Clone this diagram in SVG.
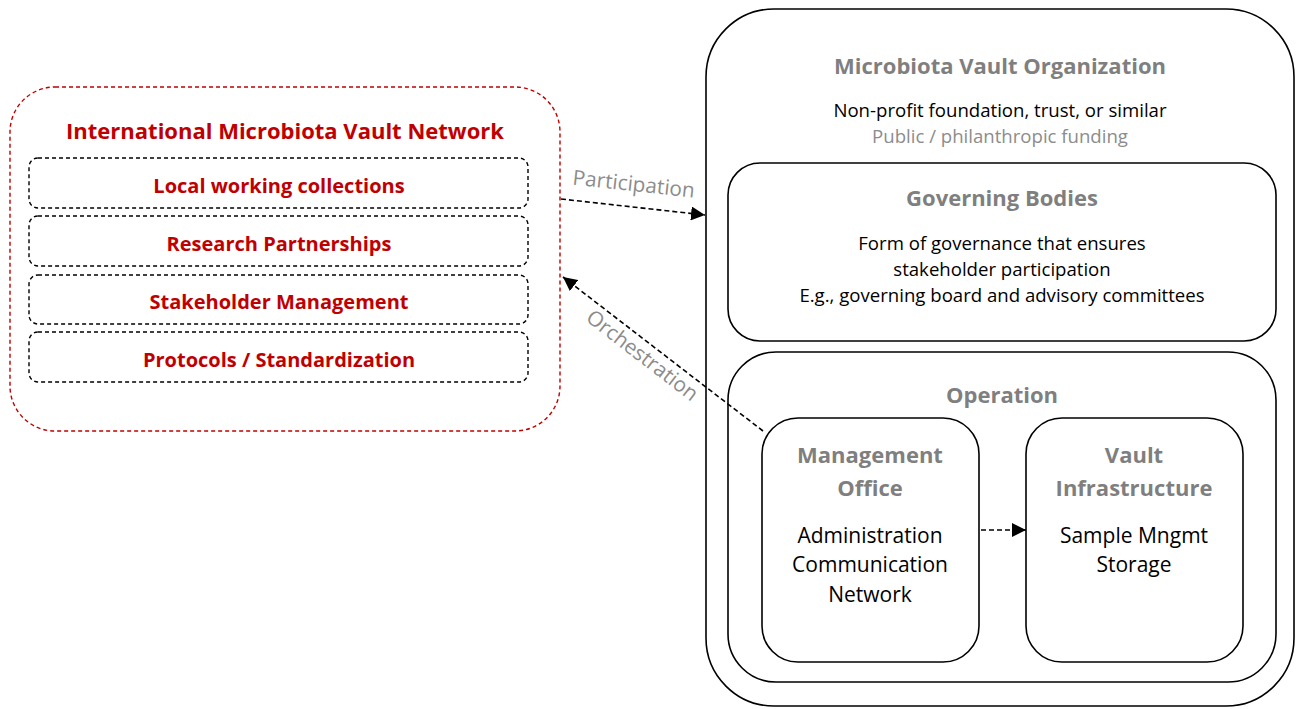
<svg xmlns="http://www.w3.org/2000/svg" width="1297" height="709" viewBox="0 0 1297 709">
  <defs>
    <marker id="arrowBig" viewBox="0 0 10 10" refX="10" refY="5" markerWidth="14" markerHeight="14" markerUnits="userSpaceOnUse" orient="auto">
      <path d="M0,0 L10,5 L0,10 Z" fill="#000"/>
    </marker>
  </defs>
  <style>
    text { font-family: "Open Sans", Lato, "Liberation Sans", sans-serif; text-anchor: middle; }
    .box { fill: #fff; stroke: #000; stroke-width: 1.6; }
    .redbox { fill: #fff; stroke: #c00000; stroke-width: 1.4; stroke-dasharray: 4 3; }
    .item { fill: #fff; stroke: #000; stroke-width: 1.4; stroke-dasharray: 4 3; }
    .title { font-size: 22px; font-weight: bold; fill: #7f7f7f; }
    .redtitle { font-size: 22px; font-weight: bold; fill: #c00000; }
    .reditem { font-size: 20px; font-weight: bold; fill: #c00000; }
    .body { font-size: 18.6px; fill: #000; }
    .body2 { font-size: 21px; fill: #000; }
    .muted { font-size: 18.6px; fill: #8c8c8c; }
    .edge { fill: none; stroke: #000; stroke-width: 1.6; stroke-dasharray: 5 3; }
    .elabel { font-size: 20.8px; fill: #8c8c8c; }
  </style>

  <!-- left: network with its work areas -->
  <g id="network">
    <rect class="redbox" x="10" y="87" width="550" height="344" rx="45"/>
    <text class="redtitle" x="285" y="139">International Microbiota Vault Network</text>
  </g>
  <g id="local-collections">
    <rect class="item" x="29" y="158" width="499" height="50" rx="9"/>
    <text class="reditem" x="279" y="193">Local working collections</text>
  </g>
  <g id="research-partnerships">
    <rect class="item" x="29" y="216" width="499" height="50" rx="9"/>
    <text class="reditem" x="279" y="251">Research Partnerships</text>
  </g>
  <g id="stakeholder-management">
    <rect class="item" x="29" y="275" width="499" height="49" rx="9"/>
    <text class="reditem" x="279" y="309">Stakeholder Management</text>
  </g>
  <g id="protocols">
    <rect class="item" x="29" y="332" width="499" height="50" rx="9"/>
    <text class="reditem" x="279" y="367">Protocols / Standardization</text>
  </g>

  <!-- right: organization -->
  <g id="organization">
    <rect class="box" x="706" y="9" width="588" height="697" rx="68"/>
    <text class="title" x="1000" y="74">Microbiota Vault Organization</text>
    <text class="body" x="1000" y="117">Non-profit foundation, trust, or similar</text>
    <text class="muted" x="1000" y="143">Public / philanthropic funding</text>
  </g>
  <g id="governing-bodies">
    <rect class="box" x="728" y="163" width="548" height="178" rx="32"/>
    <text class="title" x="1002" y="206">Governing Bodies</text>
    <text class="body" x="1002" y="250">Form of governance that ensures</text>
    <text class="body" x="1002" y="276">stakeholder participation</text>
    <text class="body" x="1002" y="302">E.g., governing board and advisory committees</text>
  </g>
  <g id="operation">
    <rect class="box" x="728" y="352" width="548" height="330" rx="48"/>
    <text class="title" x="1002" y="403">Operation</text>
  </g>
  <g id="management-office">
    <rect class="box" x="762" y="418" width="217" height="244" rx="36"/>
    <text class="title" x="870" y="463">Management</text>
    <text class="title" x="870" y="496">Office</text>
    <text class="body2" x="870" y="543">Administration</text>
    <text class="body2" x="870" y="572">Communication</text>
    <text class="body2" x="870" y="602">Network</text>
  </g>
  <g id="vault-infrastructure">
    <rect class="box" x="1026" y="418" width="217" height="244" rx="36"/>
    <text class="title" x="1134" y="463">Vault</text>
    <text class="title" x="1134" y="496">Infrastructure</text>
    <text class="body2" x="1134" y="543">Sample Mngmt</text>
    <text class="body2" x="1134" y="572">Storage</text>
  </g>

  <!-- connectors -->
  <g id="connectors">
    <path class="edge" d="M561,199 L705,215" marker-end="url(#arrowBig)"/>
    <text class="elabel" x="633" y="191" transform="rotate(6.2 633 191)">Participation</text>
    <path class="edge" d="M763,431 L563,277" marker-end="url(#arrowBig)"/>
    <text class="elabel" x="638" y="361" transform="rotate(37.5 638 361)">Orchestration</text>
    <path class="edge" d="M981,530 L1026,530" marker-end="url(#arrowBig)"/>
  </g>
</svg>
